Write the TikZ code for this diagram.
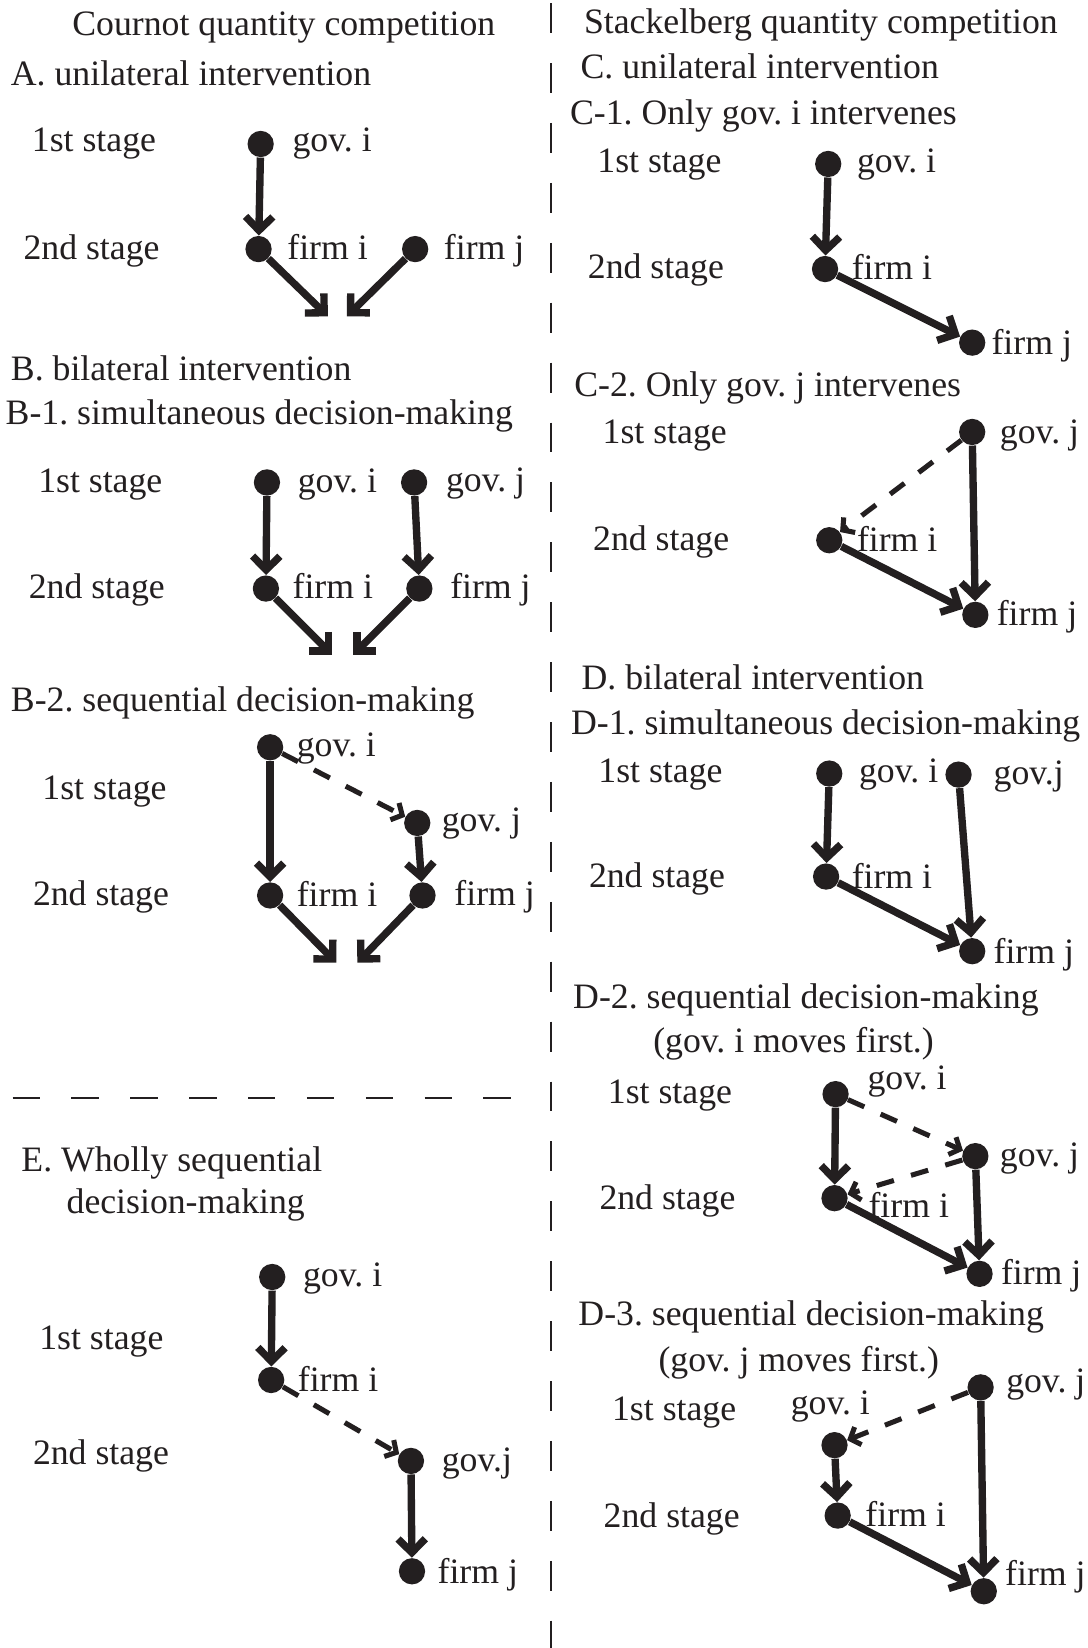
\documentclass[tikz,border=0pt]{standalone}
\usepackage{fontspec}
\setmainfont{Liberation Serif}
\usetikzlibrary{arrows.meta}
\definecolor{ink}{RGB}{35,31,32}
\frenchspacing
\begin{document}
\begin{tikzpicture}[x=0.5pt,y=-0.5pt,
  every node/.style={text=ink},
  dot/.style={circle,fill=ink,draw=none,minimum size=12.5pt,inner sep=0pt},
  txt/.style={anchor=mid west,inner sep=0pt,yshift=-2pt,font=\fontsize{17pt}{20pt}\selectfont\frenchspacing},
  ctxt/.style={anchor=mid,inner sep=0pt,yshift=-2pt,font=\fontsize{17pt}{20pt}\selectfont\frenchspacing},
  sol/.style={draw=ink,line width=3.5pt,-{Straight Barb[length=6.5pt,width=13pt]}},
  dsh/.style={draw=ink,line width=2.4pt,dash pattern=on 8.5pt off 8.5pt,-{Straight Barb[length=4pt,width=9pt]}},
  divider/.style={draw=ink,line width=1pt}]
\useasboundingbox (0,0) rectangle (1035,1568);
\fill[white] (0,0) rectangle (1035,1568);

% dividers
\draw[divider,dash pattern=on 14.25pt off 14.25pt] (524,3) -- (524,1568);
\draw[divider,dash pattern=on 13pt off 15pt] (12,1045) -- (491,1045);

% headers
\node[ctxt] (hL) at (270,25) {Cournot quantity competition};
\node[ctxt] (hR) at (781,23) {Stackelberg quantity competition};

% ---------- A ----------
\node[txt] (tA) at (10,73) {A. unilateral intervention};
\node[txt] (tA1) at (30,136) {1st stage};
\node[txt] (tA2) at (22,238) {2nd stage};
\node[dot] (Agi) at (248,137) {};
\node[dot] (Afi) at (246,237) {};
\node[dot] (Afj) at (395,237) {};
\node[txt] (lAgi) at (278,136) {gov. i};
\node[txt] (lAfi) at (273,238) {firm i};
\node[txt] (lAfj) at (422,238) {firm j};
\coordinate (Ae1) at (312,301);
\coordinate (Ae2) at (330,301);
\draw[sol] (Agi) -- (Afi);
\draw[sol] (Afi) -- (Ae1);
\draw[sol] (Afj) -- (Ae2);

% ---------- B ----------
\node[txt] (tB) at (10,353) {B. bilateral intervention};
\node[txt] (tB1) at (5,395) {B-1. simultaneous decision-making};
\node[txt] (tB11) at (36,460) {1st stage};
\node[txt] (tB12) at (27,561) {2nd stage};
\node[dot] (Bgi) at (254,459) {};
\node[dot] (Bgj) at (394,459) {};
\node[dot] (Bfi) at (253,560) {};
\node[dot] (Bfj) at (399,560) {};
\node[txt] (lBgi) at (283,460) {gov. i};
\node[txt] (lBgj) at (424,459) {gov. j};
\node[txt] (lBfi) at (278,561) {firm i};
\node[txt] (lBfj) at (428,561) {firm j};
\coordinate (Be1) at (316,623);
\coordinate (Be2) at (336,623);
\draw[sol] (Bgi) -- (Bfi);
\draw[sol] (Bgj) -- (Bfj);
\draw[sol] (Bfi) -- (Be1);
\draw[sol] (Bfj) -- (Be2);

% ---------- B-2 ----------
\node[txt] (tB2) at (10,668) {B-2. sequential decision-making};
\node[txt] (tB21) at (40,752) {1st stage};
\node[txt] (tB22) at (31,853) {2nd stage};
\node[dot] (Cgi) at (257,711) {};
\node[dot] (Cgj) at (397,783) {};
\node[dot] (Cfi) at (257,852) {};
\node[dot] (Cfj) at (402,852) {};
\node[txt] (lCgi) at (282,711) {gov. i};
\node[txt] (lCgj) at (420,783) {gov. j};
\node[txt] (lCfi) at (282,854) {firm i};
\node[txt] (lCfj) at (432,853) {firm j};
\coordinate (Ce1) at (320,916);
\coordinate (Ce2) at (340,916);
\draw[dsh] (Cgi) -- (Cgj);
\draw[sol] (Cgi) -- (Cfi);
\draw[sol] (Cgj) -- (Cfj);
\draw[sol] (Cfi) -- (Ce1);
\draw[sol] (Cfj) -- (Ce2);

% ---------- E ----------
\node[txt] (tE) at (20,1106) {E. Wholly sequential};
\node[txt] (tE0) at (63,1146) {decision-making};
\node[txt] (tE1) at (37,1275) {1st stage};
\node[txt] (tE2) at (31,1385) {2nd stage};
\node[dot] (Egi) at (259,1215) {};
\node[dot] (Efi) at (258,1313) {};
\node[dot] (Egj) at (391,1390) {};
\node[dot] (Efj) at (392,1495) {};
\node[txt] (lEgi) at (288,1215) {gov. i};
\node[txt] (lEfi) at (283,1315) {firm i};
\node[txt] (lEgj) at (420,1391) {gov.j};
\node[txt] (lEfj) at (416,1498) {firm j};
\draw[sol] (Egi) -- (Efi);
\draw[dsh] (Efi) -- (Egj);
\draw[sol] (Egj) -- (Efj);

% ---------- C ----------
\node[txt] (tC) at (552,66) {C. unilateral intervention};
\node[txt] (tC1) at (542,110) {C-1. Only gov. i intervenes};
\node[txt] (tC11) at (568,156) {1st stage};
\node[txt] (tC12) at (559,256) {2nd stage};
\node[dot] (Fgi) at (788,156) {};
\node[dot] (Ffi) at (785,256) {};
\node[dot] (Ffj) at (925,326) {};
\node[txt] (lFgi) at (815,156) {gov. i};
\node[txt] (lFfi) at (810,257) {firm i};
\node[txt] (lFfj) at (943,329) {firm j};
\draw[sol] (Fgi) -- (Ffi);
\draw[sol] (Ffi) -- (Ffj);

% ---------- C-2 ----------
\node[txt] (tC2) at (546,369) {C-2. Only gov. j intervenes};
\node[txt] (tC21) at (573,413) {1st stage};
\node[txt] (tC22) at (564,515) {2nd stage};
\node[dot] (Ggj) at (925,411) {};
\node[dot] (Gfi) at (789,514) {};
\node[dot] (Gfj) at (928,585) {};
\node[txt] (lGgj) at (951,413) {gov. j};
\node[txt] (lGfi) at (815,516) {firm i};
\node[txt] (lGfj) at (948,587) {firm j};
\draw[dsh] (Ggj) -- (Gfi);
\draw[sol] (Ggj) -- (Gfj);
\draw[sol] (Gfi) -- (Gfj);

% ---------- D ----------
\node[txt] (tD) at (553,647) {D. bilateral intervention};
\node[txt] (tD1) at (543,690) {D-1. simultaneous decision-making};
\node[txt] (tD11) at (569,736) {1st stage};
\node[txt] (tD12) at (560,836) {2nd stage};
\node[dot] (Hgi) at (789,736) {};
\node[dot] (Hgj) at (912,737) {};
\node[dot] (Hfi) at (786,834) {};
\node[dot] (Hfj) at (925,905) {};
\node[txt] (lHgi) at (817,736) {gov. i};
\node[txt] (lHgj) at (945,738) {gov.j};
\node[txt] (lHfi) at (810,837) {firm i};
\node[txt] (lHfj) at (945,908) {firm j};
\draw[sol] (Hgi) -- (Hfi);
\draw[sol] (Hgj) -- (Hfj);
\draw[sol] (Hfi) -- (Hfj);

% ---------- D-2 ----------
\node[txt] (tD2) at (545,951) {D-2. sequential decision-making};
\node[ctxt] (tD2b) at (755,993) {(gov. i moves first.)};
\node[txt] (tD21) at (578,1041) {1st stage};
\node[txt] (tD22) at (570,1142) {2nd stage};
\node[dot] (Igi) at (795,1041) {};
\node[dot] (Igj) at (928,1100) {};
\node[dot] (Ifi) at (794,1140) {};
\node[dot] (Ifj) at (932,1212) {};
\node[txt] (lIgi) at (825,1028) {gov. i};
\node[txt] (lIgj) at (951,1101) {gov. j};
\node[txt] (lIfi) at (826,1150) {firm i};
\node[txt] (lIfj) at (952,1214) {firm j};
\draw[sol] (Igi) -- (Ifi);
\draw[dsh] (Igi) -- (Igj);
\draw[dsh] (Igj) -- (Ifi);
\draw[sol] (Igj) -- (Ifj);
\draw[sol] (Ifi) -- (Ifj);

% ---------- D-3 ----------
\node[txt] (tD3) at (550,1253) {D-3. sequential decision-making};
\node[ctxt] (tD3b) at (760,1296) {(gov. j moves first.)};
\node[txt] (tD31) at (582,1343) {1st stage};
\node[txt] (tD32) at (574,1445) {2nd stage};
\node[dot] (Jgj) at (933,1320) {};
\node[dot] (Jgi) at (794,1375) {};
\node[dot] (Jfi) at (797,1442) {};
\node[dot] (Jfj) at (936,1514) {};
\node[txt] (lJgj) at (957,1316) {gov. j};
\node[txt] (lJgi) at (752,1337) {gov. i};
\node[txt] (lJfi) at (823,1444) {firm i};
\node[txt] (lJfj) at (956,1500) {firm j};
\draw[dsh] (Jgj) -- (Jgi);
\draw[sol] (Jgi) -- (Jfi);
\draw[sol] (Jgj) -- (Jfj);
\draw[sol] (Jfi) -- (Jfj);
\end{tikzpicture}
\end{document}
